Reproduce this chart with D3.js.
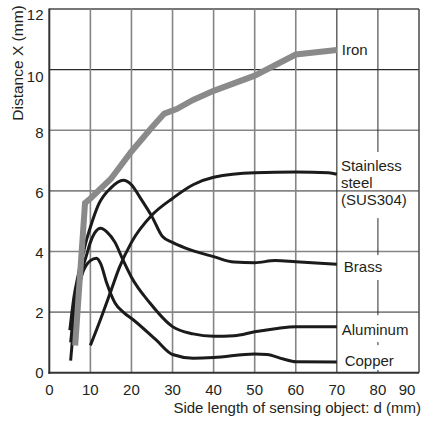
<!DOCTYPE html>
<html>
<head>
<meta charset="utf-8">
<script src="https://cdn.jsdelivr.net/npm/d3@7"></script>
<style>
  html, body { margin: 0; padding: 0; background: #fff; }
  svg { display: block; font-family: "Liberation Sans", Arial, sans-serif; }
</style>
</head>
<body>
<svg id="chart" width="423" height="421"></svg>
<script>
// ---- data ----
const xTicks = [0, 10, 20, 30, 40, 50, 60, 70, 80, 90];
const yTicks = [0, 2, 4, 6, 8, 10, 12];
const xTitle = "Side length of sensing object: d (mm)";
const yTitle = "Distance X (mm)";

const ironX = [6.3, 8.7, 10, 15, 20, 25, 28, 31, 35, 40, 50, 60, 70];
const ironY = [0.9, 5.6, 5.75, 6.4, 7.3, 8.1, 8.55, 8.7, 9.0, 9.3, 9.8, 10.5, 10.65];

const stainlessX = [10, 12.3, 15, 17, 20, 25, 30, 35, 40, 50, 60, 68, 70];
const stainlessY = [0.9, 1.7, 2.7, 3.45, 4.3, 5.2, 5.75, 6.2, 6.45, 6.6, 6.62, 6.6, 6.55];

const brassX = [5, 6, 7, 8, 9, 10, 12, 15, 18, 20, 22, 25, 27.5, 30, 33, 40, 45, 50, 55, 60, 70];
const brassY = [1.4, 2.5, 3.2, 3.8, 4.35, 4.8, 5.55, 6.1, 6.35, 6.2, 5.8, 5.15, 4.5, 4.3, 4.12, 3.83, 3.65, 3.63, 3.7, 3.66, 3.58];

const aluminumX = [5.2, 6, 7, 8, 9, 10, 11, 12.5, 14, 16, 18, 20, 24.5, 30, 35, 40, 45, 50, 55, 60, 70];
const aluminumY = [1.0, 2.0, 2.8, 3.4, 3.85, 4.3, 4.6, 4.77, 4.65, 4.3, 3.7, 3.15, 2.3, 1.52, 1.28, 1.2, 1.22, 1.35, 1.45, 1.52, 1.52];

const copperX = [5.2, 6, 7, 8, 9, 10, 11.5, 12.5, 14, 16, 18, 20.5, 26, 30, 35, 40, 50, 53, 57, 60, 70];
const copperY = [0.4, 1.6, 2.6, 3.25, 3.55, 3.7, 3.78, 3.6, 2.95, 2.3, 2.0, 1.74, 1.08, 0.6, 0.48, 0.5, 0.62, 0.6, 0.45, 0.36, 0.35];

const seriesNames = ["Iron", "Stainless steel (SUS304)", "Brass", "Aluminum", "Copper"];
const labelLines = [["Iron"], ["Stainless", "steel", "(SUS304)"], ["Brass"], ["Aluminum"], ["Copper"]];
const labelX = [71.2, 71.0, 71.7, 71.2, 71.9];
const labelY = [10.65, 6.84, 3.49, 1.41, 0.39];

// ---- layout ----
const svg = d3.select("#chart");
const x = d3.scaleLinear().domain([0, 90]).range([49.3, 419]);
const y = d3.scaleLinear().domain([0, 12]).range([372.7, 9]);

// grid: horizontals
const gGrid = svg.append("g");
yTicks.filter(v => v > 0).forEach(v => {
  const dark = v >= 10;
  gGrid.append("line")
    .attr("x1", x(0)).attr("x2", x(90))
    .attr("y1", y(v)).attr("y2", y(v))
    .attr("stroke", v === 12 ? "#4a4a4a" : (dark ? "#2a2a2a" : "#858585"))
    .attr("stroke-width", v === 12 ? 1.5 : (dark ? 1.1 : 1.6));
});
// grid: verticals
const gap80 = [[12, 7.28], [5.1, 3.88], [3.06, 1.9], [1.01, 0.91], [0.09, 0]];
xTicks.filter(v => v > 0).forEach(v => {
  if (v === 80) {
    gap80.forEach(seg => {
      gGrid.append("line")
        .attr("x1", x(v)).attr("x2", x(v))
        .attr("y1", y(seg[0])).attr("y2", y(seg[1]))
        .attr("stroke", "#2a2a2a").attr("stroke-width", 1);
    });
    return;
  }
  const dark = v >= 70;
  gGrid.append("line")
    .attr("x1", x(v)).attr("x2", x(v))
    .attr("y1", y(12)).attr("y2", y(0))
    .attr("stroke", v === 90 ? "#4a4a4a" : (dark ? "#2a2a2a" : "#858585"))
    .attr("stroke-width", v === 90 ? 1.5 : (dark ? 1.1 : 1.6));
});

// curves
function pts(xs, ys) { return xs.map((d, i) => [d, ys[i]]); }
const smooth = d3.line().x(d => x(d[0])).y(d => y(d[1])).curve(d3.curveMonotoneX);
const straight = d3.line().x(d => x(d[0])).y(d => y(d[1])).curve(d3.curveLinear);

const blackSeries = [
  pts(stainlessX, stainlessY),
  pts(brassX, brassY),
  pts(aluminumX, aluminumY),
  pts(copperX, copperY)
];
blackSeries.forEach(s => {
  svg.append("path").attr("d", smooth(s))
    .attr("fill", "none").attr("stroke", "#1c1a1a")
    .attr("stroke-width", 3).attr("stroke-linejoin", "round");
});
svg.append("path").attr("d", straight(pts(ironX, ironY)))
  .attr("fill", "none").attr("stroke", "#8a8a8a")
  .attr("stroke-width", 6).attr("stroke-linejoin", "miter");

// axes lines
svg.append("line").attr("x1", x(0)).attr("x2", x(0)).attr("y1", y(12) - 0.5).attr("y2", y(0) + 1)
  .attr("stroke", "#333").attr("stroke-width", 2);
svg.append("line").attr("x1", x(0) - 1).attr("x2", x(90)).attr("y1", y(0)).attr("y2", y(0))
  .attr("stroke", "#333").attr("stroke-width", 2);

// tick labels
const yOff = {0: 0, 2: 1, 4: 1, 6: 1.5, 8: 3, 10: 7, 12: 6};
svg.append("g").selectAll("text").data(yTicks).join("text")
  .attr("x", 43.5).attr("y", d => y(d) + yOff[d])
  .attr("dy", "0.35em").attr("text-anchor", "end")
  .attr("font-size", 15).attr("fill", "#231f20")
  .text(d => d);
svg.append("g").selectAll("text").data(xTicks).join("text")
  .attr("x", d => x(d) - (d === 90 ? 12 : 0)).attr("y", 390)
  .attr("dy", "0.35em").attr("text-anchor", "middle")
  .attr("font-size", 15).attr("fill", "#231f20")
  .text(d => d);

// titles
svg.append("text").attr("x", 421).attr("y", 413)
  .attr("text-anchor", "end").attr("font-size", 15).attr("fill", "#231f20")
  .text(xTitle);
svg.append("text").attr("transform", "translate(23,63) rotate(-90)")
  .attr("text-anchor", "middle").attr("font-size", 15.5).attr("fill", "#231f20")
  .text(yTitle);

// series labels
labelLines.forEach((lines, i) => {
  const t = svg.append("text")
    .attr("x", x(labelX[i])).attr("y", y(labelY[i]))
    .attr("font-size", 15).attr("fill", "#231f20");
  lines.forEach((ln, j) => {
    t.append("tspan").attr("x", x(labelX[i]))
      .attr("dy", j === 0 ? "0.35em" : "1.15em").text(ln);
  });
});
</script>
</body>
</html>
